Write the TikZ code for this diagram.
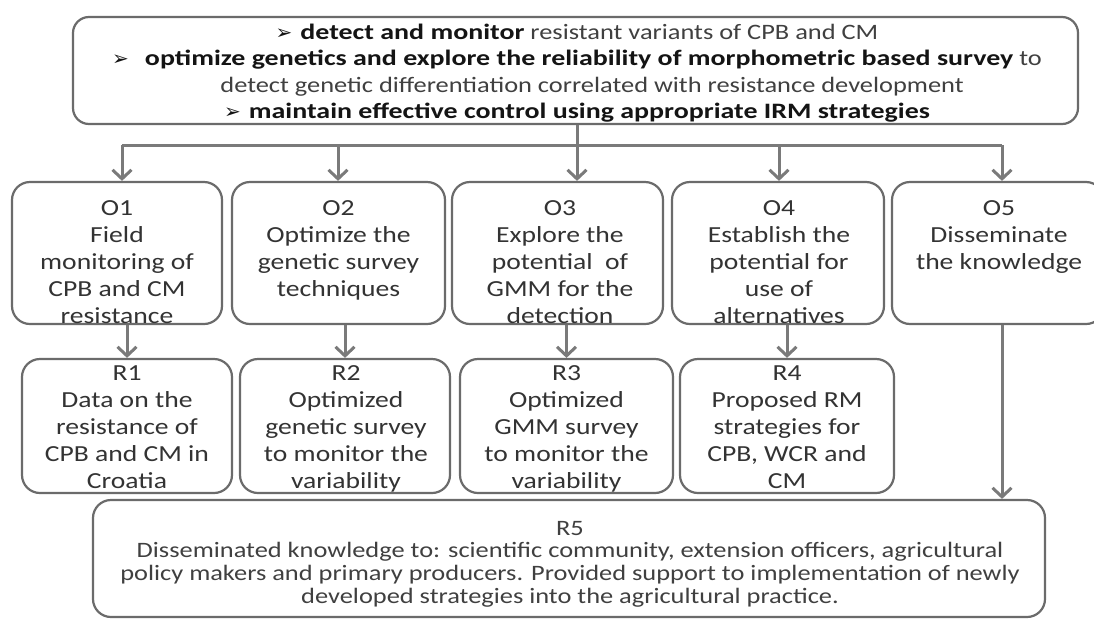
\documentclass[tikz,border=0pt]{standalone}
\usepackage{fontspec}
\setmainfont{Carlito}[FakeStretch=1.2]
\newfontfamily\bfam{Carlito}[FakeStretch=1.27]
\newfontfamily\symfont{DejaVu Sans}
\usetikzlibrary{arrows.meta}
\definecolor{boxgray}{HTML}{6B6B6B}
\definecolor{arrgray}{HTML}{7A7A7A}
\definecolor{txtc}{HTML}{333333}
\definecolor{txtr}{HTML}{404040}
\definecolor{txtb}{HTML}{141414}
\newcommand{\bul}{\textcolor{txtb}{\symfont\fontsize{20}{20}\selectfont ➢}}
\newcommand{\bt}[1]{\textcolor{txtb}{\bfam\bfseries #1}}
\tikzset{
  box/.style={draw=boxgray, line width=2.2pt, rounded corners=18pt, inner sep=0pt},
  conn/.style={draw=arrgray, line width=3pt},
  arr/.style={conn, -{Straight Barb[length=9pt,width=19pt]}},
  obtxt/.style={font=\fontsize{23}{27}\selectfont, text=txtc, align=center, inner sep=0pt, anchor=north},
  toptxt/.style={font=\fontsize{22}{26.5}\selectfont, text=txtr, align=center, inner sep=0pt, anchor=north},
  rvtxt/.style={font=\fontsize{22}{22.8}\selectfont, text=txtr, align=center, inner sep=0pt, anchor=north},
}
\begin{document}
\begin{tikzpicture}[x=1pt,y=-1pt]
\path[use as bounding box, fill=white] (0,0) rectangle (1094,619);
% top box
\node[box, rounded corners=16pt, minimum width=1005pt, minimum height=107pt] (top) at (575.5,70.5) {};
\node[toptxt] (toptext) at (577,20.45) {\strut\bul\hspace{8pt}\bt{detect and monitor} resistant variants of CPB and CM\\
\bul\hspace{16pt}\bt{optimize genetics and explore the reliability of morphometric based survey} to\\
\hspace*{30pt}detect genetic differentiation correlated with resistance development\\
\bul\hspace{8pt}\bt{maintain effective control using appropriate IRM strategies}};
% objective boxes
\node[box, minimum width=210pt, minimum height=142pt] (O1) at (117,253) {};
\node[box, minimum width=213pt, minimum height=142pt] (O2) at (338.5,253) {};
\node[box, minimum width=211pt, minimum height=142pt] (O3) at (557.5,253) {};
\node[box, minimum width=212pt, minimum height=142pt] (O4) at (778,253) {};
\node[box, minimum width=212pt, minimum height=142pt] (O5) at (998,253) {};
\node[obtxt] (O1t) at (117,196.1) {\strut O1\\Field\\monitoring of\\CPB and CM\\resistance};
\node[obtxt] (O2t) at (338.5,196.1) {\strut O2\\Optimize the\\genetic survey\\techniques};
\node[obtxt] (O3t) at (560,196.1) {\strut O3\\Explore the\\potential\ \ of\\GMM for the\\detection};
\node[obtxt] (O4t) at (779,196.1) {\strut O4\\Establish the\\potential for\\use of\\alternatives};
\node[obtxt] (O5t) at (999,196.1) {\strut O5\\Disseminate\\the knowledge};
% result boxes
\node[box, minimum width=210pt, minimum height=134pt] (R1) at (127,426) {};
\node[box, minimum width=210pt, minimum height=134pt] (R2) at (345,426) {};
\node[box, minimum width=213pt, minimum height=134pt] (R3) at (566.5,426) {};
\node[box, minimum width=214pt, minimum height=134pt] (R4) at (787,426) {};
\node[box, minimum width=952pt, minimum height=117pt] (R5) at (569,558.5) {};
\node[obtxt] (R1t) at (127,361.1) {\strut R1\\Data on the\\resistance of\\CPB and CM in\\Croatia};
\node[obtxt] (R2t) at (346,361.1) {\strut R2\\Optimized\\genetic survey\\to monitor the\\variability};
\node[obtxt] (R3t) at (566.5,361.1) {\strut R3\\Optimized\\GMM survey\\to monitor the\\variability};
\node[obtxt] (R4t) at (787,361.1) {\strut R4\\Proposed RM\\strategies for\\CPB, WCR and\\CM};
\node[rvtxt] (R5t) at (570,519) {\strut R5\\Disseminated knowledge to: scientific community, extension officers, agricultural\\policy makers and primary producers. Provided support to implementation of newly\\developed strategies into the agricultural practice.};
% connectors
\coordinate (stem) at (577,145);
\coordinate (b1) at (122,145);
\coordinate (b2) at (338,145);
\coordinate (b4) at (779,145);
\coordinate (b5) at (1002,145);
\draw[conn] (top.south -| stem) -- (stem);
\draw[conn] (b1) -- (b5);
\draw[arr] (b1) -- (b1 |- O1.north);
\draw[arr] (b2) -- (b2 |- O2.north);
\draw[arr] (stem) -- (stem |- O3.north);
\draw[arr] (b4) -- (b4 |- O4.north);
\draw[arr] (b5) -- (b5 |- O5.north);
\draw[arr] (O1.south -| R1.north) -- (R1.north);
\draw[arr] (O2.south -| R2.north) -- (R2.north);
\draw[arr] (O3.south -| R3.north) -- (R3.north);
\draw[arr] (O4.south -| R4.north) -- (R4.north);
\draw[arr] (O5.south -| b5) -- (b5 |- R5.north);
\end{tikzpicture}
\end{document}
